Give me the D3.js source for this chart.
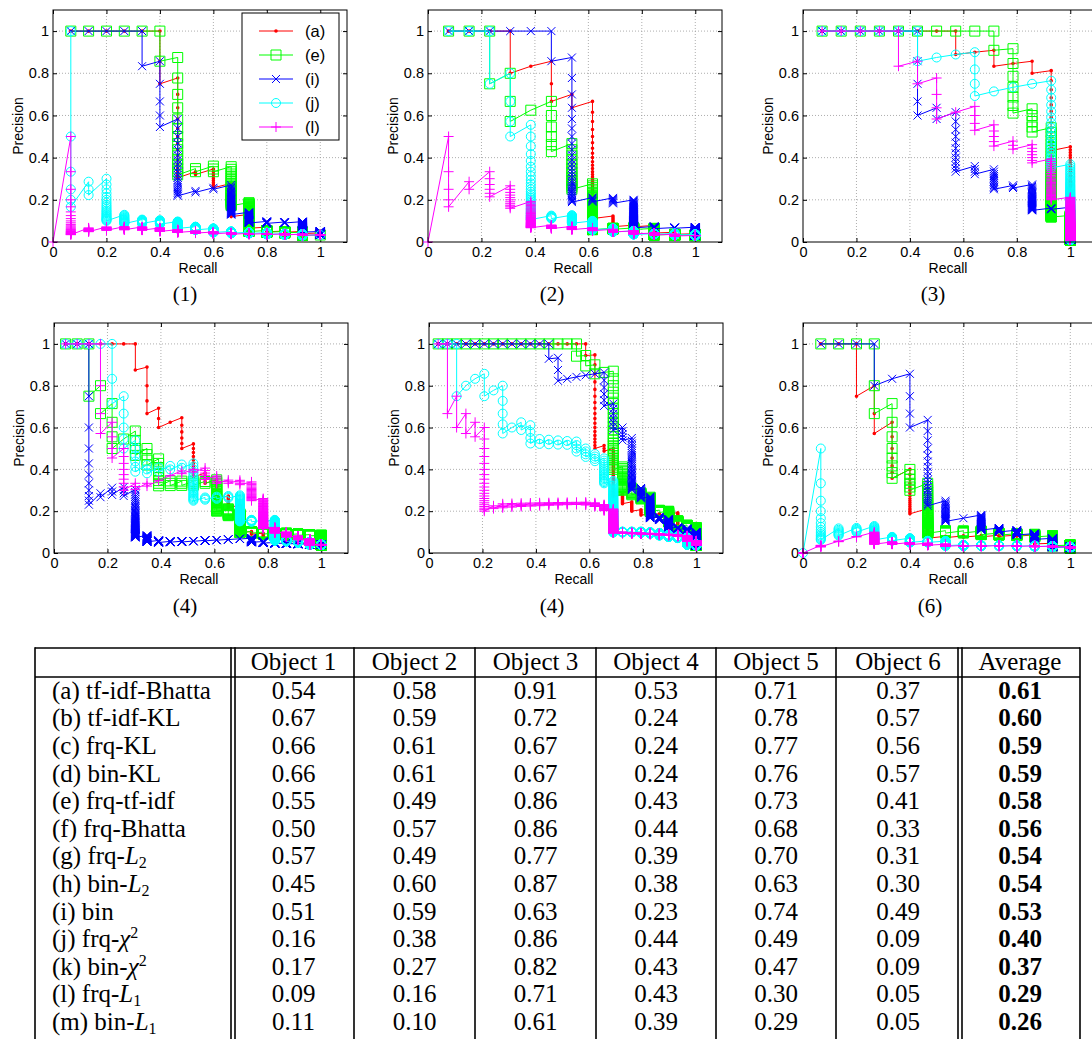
<!DOCTYPE html>
<html>
<head>
<meta charset="utf-8">
<script src="https://cdn.jsdelivr.net/npm/d3@7"></script>
<style>
  body { margin: 0; background: #fff; }
  .plot text { font-family: "Liberation Sans", Arial, sans-serif; fill: #000; }
  .tbl text { font-family: "Liberation Serif", "Times New Roman", serif; fill: #000; }
</style>
</head>
<body>
<svg id="fig" width="1092" height="1039"></svg>
<script>
// ---- data ----
const seriesKeys = ["(a)", "(e)", "(i)", "(j)", "(l)"];
const panelCaptions = ["(1)", "(2)", "(3)", "(4)", "(4)", "(6)"];
const tickVals = [0, 0.2, 0.4, 0.6, 0.8, 1];

// number of relevant items per object, and length of each ranked list
const relevantCount = [15, 13, 14, 23, 29, 15];
const listLength = [450, 430, 1400, 600, 800, 600];

// rank at which each relevant item is retrieved, per series (a, e, i, j, l)
const ranksObj1 = [
  [1, 2, 3, 4, 5, 6, 9, 24, 26, 36, 84, 170, 250, 280, 350],
  [1, 2, 3, 4, 5, 6, 8, 23, 25, 28, 59, 221, 260, 300, 450],
  [1, 2, 3, 4, 5, 7, 12, 33, 35, 37, 78, 123, 137, 145, 300],
  [1, 7, 10, 31, 47, 58, 72, 110, 140, 200, 240, 270, 330, 380, 450],
  [2, 30, 42, 55, 70, 90, 120, 155, 190, 230, 270, 300, 340, 380, 440]
];
const ranksObj2 = [
  [1, 2, 3, 4, 6, 7, 10, 12, 73, 125, 140, 260, 330],
  [1, 2, 3, 5, 8, 9, 15, 29, 138, 150, 170, 330, 380],
  [1, 2, 3, 4, 5, 6, 8, 38, 43, 50, 150, 175, 185],
  [1, 2, 3, 5, 9, 48, 55, 80, 140, 190, 280, 300, 360],
  [2, 7, 9, 15, 26, 75, 95, 120, 150, 190, 260, 330, 420]
];
const ranksObj3 = [
  [1, 2, 3, 4, 5, 6, 7, 8, 10, 11, 13, 14, 16, 31],
  [1, 2, 3, 4, 5, 6, 7, 8, 9, 10, 12, 19, 24, 111],
  [1, 2, 3, 4, 5, 6, 11, 13, 25, 29, 41, 44, 81, 85],
  [1, 2, 3, 4, 5, 6, 8, 9, 10, 14, 15, 16, 17, 38],
  [1, 2, 3, 4, 5, 7, 9, 13, 14, 18, 23, 26, 33, 66]
];
const ranksObj4 = [
  [1, 2, 3, 4, 5, 6, 7, 9, 13, 16, 17, 23, 34, 40, 55, 70, 165, 190, 250, 300, 380, 450, 530],
  [1, 2, 3, 5, 7, 11, 12, 16, 20, 29, 32, 35, 38, 40, 71, 85, 165, 180, 200, 210, 230, 250, 270],
  [1, 2, 3, 14, 16, 19, 23, 95, 150, 180, 195, 210, 215, 225, 230, 235, 240, 330, 380, 420, 460, 500, 540],
  [1, 2, 3, 4, 5, 8, 13, 19, 22, 24, 26, 28, 49, 52, 55, 58, 107, 115, 120, 320, 360, 420, 560],
  [1, 2, 3, 4, 8, 12, 21, 24, 26, 27, 28, 30, 32, 38, 43, 46, 50, 69, 155, 200, 260, 330, 560]
];
const ranksObj5 = [
  [1, 2, 3, 4, 5, 6, 7, 8, 9, 10, 11, 12, 13, 14, 15, 16, 17, 19, 37, 40, 75, 90, 111, 128, 133, 138, 140, 271, 300],
  [1, 2, 3, 4, 5, 6, 7, 8, 9, 10, 11, 12, 13, 14, 15, 16, 18, 20, 22, 23, 51, 71, 80, 90, 122, 130, 175, 210, 240],
  [1, 2, 3, 4, 5, 6, 7, 8, 9, 10, 11, 12, 13, 15, 18, 19, 20, 21, 22, 28, 35, 40, 74, 89, 145, 160, 220, 240, 290],
  [1, 2, 3, 5, 6, 7, 9, 10, 15, 16, 18, 22, 24, 26, 28, 30, 34, 38, 42, 58, 205, 215, 225, 240, 260, 300, 340, 380, 700],
  [1, 2, 4, 6, 8, 10, 31, 34, 38, 42, 46, 50, 54, 58, 62, 66, 70, 75, 82, 95, 210, 225, 240, 255, 270, 290, 310, 340, 500]
];
const ranksObj6 = [
  [1, 2, 3, 5, 8, 15, 33, 100, 110, 120, 130, 140, 150, 300, 500],
  [1, 2, 3, 4, 7, 15, 21, 75, 85, 95, 115, 130, 145, 170, 400],
  [1, 2, 3, 4, 6, 7, 11, 32, 54, 55, 92, 110, 140, 200, 500],
  [2, 17, 25, 31, 65, 85, 120, 140, 230, 270, 300, 330, 370, 420, 500],
  [27, 35, 38, 40, 95, 120, 150, 190, 250, 280, 310, 340, 380, 430, 480]
];
const panelRanks = [ranksObj1, ranksObj2, ranksObj3, ranksObj4, ranksObj5, ranksObj6];

// table
const tableHeader = ["", "Object 1", "Object 2", "Object 3", "Object 4", "Object 5", "Object 6", "Average"];
const methodLabels = ["(a) tf-idf-Bhatta", "(b) tf-idf-KL", "(c) frq-KL", "(d) bin-KL", "(e) frq-tf-idf",
  "(f) frq-Bhatta", "(g) frq-L_2", "(h) bin-L_2", "(i) bin", "(j) frq-χ^2", "(k) bin-χ^2", "(l) frq-L_1", "(m) bin-L_1"];
const obj1 = [0.54, 0.67, 0.66, 0.66, 0.55, 0.50, 0.57, 0.45, 0.51, 0.16, 0.17, 0.09, 0.11];
const obj2 = [0.58, 0.59, 0.61, 0.61, 0.49, 0.57, 0.49, 0.60, 0.59, 0.38, 0.27, 0.16, 0.10];
const obj3 = [0.91, 0.72, 0.67, 0.67, 0.86, 0.86, 0.77, 0.87, 0.63, 0.86, 0.82, 0.71, 0.61];
const obj4 = [0.53, 0.24, 0.24, 0.24, 0.43, 0.44, 0.39, 0.38, 0.23, 0.44, 0.43, 0.43, 0.39];
const obj5 = [0.71, 0.78, 0.77, 0.76, 0.73, 0.68, 0.70, 0.63, 0.74, 0.49, 0.47, 0.30, 0.29];
const obj6 = [0.37, 0.57, 0.56, 0.57, 0.41, 0.33, 0.31, 0.30, 0.49, 0.09, 0.09, 0.05, 0.05];
const average = [0.61, 0.60, 0.59, 0.59, 0.58, 0.56, 0.54, 0.54, 0.53, 0.40, 0.37, 0.29, 0.26];

// ---- styles / layout ----
const seriesColors = ["#ff0000", "#00ff00", "#0000ff", "#00ffff", "#ff00ff"];
const seriesMarkers = ["dot", "square", "x", "circle", "plus"];
const panelLeft = [53, 428, 803, 54, 429, 803];
const panelTop = [10, 10, 10, 323, 323, 323];
const panelH = [232, 232, 232, 230, 230, 230];
const plotW = 294;
const captionX = [185, 552, 933, 185, 552, 930];
const captionY = [301, 301, 301, 613, 613, 613];

const svg = d3.select("#fig");

function r1(v) { return Math.round(v * 10) / 10; }

const markerPath = {
  dot: (px, py) => `M${r1(px + 1.8)},${r1(py)}a1.8,1.8 0 1,0 -3.6,0a1.8,1.8 0 1,0 3.6,0`,
  square: (px, py) => `M${r1(px - 5)},${r1(py - 5)}h10v10h-10Z`,
  x: (px, py) => `M${r1(px - 4)},${r1(py - 4)}l8,8M${r1(px - 4)},${r1(py + 4)}l8,-8`,
  circle: (px, py) => `M${r1(px + 4.5)},${r1(py)}a4.5,4.5 0 1,0 -9,0a4.5,4.5 0 1,0 9,0`,
  plus: (px, py) => `M${r1(px - 5)},${r1(py)}h10M${r1(px)},${r1(py - 5)}v10`
};

// precision / recall after each retrieved item of a ranked list
function prCurve(ranks, n, len) {
  let pts = [], hits = 0, next = 0;
  for (let k = 1; k <= len; k++) {
    if (next < ranks.length && ranks[next] === k) { hits++; next++; }
    pts.push([hits / n, hits / k]);
  }
  return pts;
}

const fmt = d3.format("~g");

panelRanks.forEach(function (ranks, pi) {
  const left = panelLeft[pi], top = panelTop[pi], h = panelH[pi];
  const x = d3.scaleLinear().domain([0, 1.1]).range([left, left + plotW]);
  const y = d3.scaleLinear().domain([0, 1.1]).range([top + h, top]);
  const g = svg.append("g").attr("class", "plot");

  // dotted grid
  g.append("g").selectAll("line").data(tickVals.slice(1)).join("line")
    .attr("x1", d => x(d)).attr("x2", d => x(d))
    .attr("y1", top).attr("y2", top + h)
    .attr("stroke", "#999").attr("stroke-width", 0.8).attr("stroke-dasharray", "1,2");
  g.append("g").selectAll("line").data(tickVals.slice(1)).join("line")
    .attr("y1", d => y(d)).attr("y2", d => y(d))
    .attr("x1", left).attr("x2", left + plotW)
    .attr("stroke", "#999").attr("stroke-width", 0.8).attr("stroke-dasharray", "1,2");

  // axes, ticks pointing inward on all four sides
  const axB = g.append("g").attr("transform", `translate(0,${top + h})`)
    .call(d3.axisBottom(x).tickValues(tickVals).tickFormat(fmt).tickSize(-4).tickPadding(5));
  const axL = g.append("g").attr("transform", `translate(${left},0)`)
    .call(d3.axisLeft(y).tickValues(tickVals).tickFormat(fmt).tickSize(-4).tickPadding(4));
  const axT = g.append("g").attr("transform", `translate(0,${top})`)
    .call(d3.axisTop(x).tickValues(tickVals).tickFormat("").tickSize(-4));
  const axR = g.append("g").attr("transform", `translate(${left + plotW},0)`)
    .call(d3.axisRight(y).tickValues(tickVals).tickFormat("").tickSize(-4));
  [axB, axL, axT, axR].forEach(function (a) {
    a.select(".domain").remove();
    a.attr("font-family", null).attr("font-size", null);
    a.selectAll("text").style("font-size", "14.5px").style("font-family", "'Liberation Sans', Arial, sans-serif");
    a.selectAll("line").attr("stroke", "#000");
  });

  // curves
  const line = d3.line().x(d => x(d[0])).y(d => y(d[1]));
  ranks.forEach(function (rk, si) {
    const pts = prCurve(rk, relevantCount[pi], listLength[pi]);
    const col = seriesColors[si];
    g.append("path").attr("d", line(pts)).attr("fill", "none")
      .attr("stroke", col).attr("stroke-width", 1);
    const mk = seriesMarkers[si];
    const d = pts.map(p => markerPath[mk](x(p[0]), y(p[1]))).join("");
    g.append("path").attr("d", d)
      .attr("fill", mk === "dot" ? col : "none")
      .attr("stroke", col).attr("stroke-width", mk === "dot" ? 0 : 1);
  });

  // frame
  g.append("rect").attr("x", left).attr("y", top).attr("width", plotW).attr("height", h)
    .attr("fill", "none").attr("stroke", "#000").attr("stroke-width", 1);

  // labels
  g.append("text").attr("x", left + plotW / 2 - 2).attr("y", top + h + 31)
    .attr("text-anchor", "middle").style("font-size", "14px").text("Recall");
  g.append("text").attr("transform", `translate(${left - 35},${top + h / 2}) rotate(-90)`)
    .attr("text-anchor", "middle").attr("dy", "0.35em").style("font-size", "14px").text("Precision");
  svg.append("text").attr("class", "cap").attr("x", captionX[pi]).attr("y", captionY[pi])
    .attr("text-anchor", "middle")
    .style("font-family", "'Liberation Serif', 'Times New Roman', serif").style("font-size", "21px")
    .text(panelCaptions[pi]);

  // legend in the first panel
  if (pi === 0) {
    const lg = g.append("g");
    lg.append("rect").attr("x", 242).attr("y", 13).attr("width", 97).attr("height", 127)
      .attr("fill", "#fff").attr("stroke", "#000").attr("stroke-width", 1);
    seriesKeys.forEach(function (k, si) {
      const ly = 31 + si * 24;
      lg.append("line").attr("x1", 259).attr("x2", 293).attr("y1", ly).attr("y2", ly)
        .attr("stroke", seriesColors[si]).attr("stroke-width", 1);
      const mk = seriesMarkers[si];
      lg.append("path").attr("d", markerPath[mk](276, ly))
        .attr("fill", mk === "dot" ? seriesColors[si] : "none")
        .attr("stroke", seriesColors[si]).attr("stroke-width", mk === "dot" ? 0 : 1);
      lg.append("text").attr("x", 305).attr("y", ly + 6).style("font-size", "16.5px").text(k);
    });
  }
});

// ---- table ----
const tbl = svg.append("g").attr("class", "tbl");
const colEdges = [35, 233, 354, 475, 596, 716, 836, 960, 1080];
const doubleCols = [1, 7];
const tTop = 648, tHead = 677, rowH = 27.6;
const tBottom = 1045;
const columns = [obj1, obj2, obj3, obj4, obj5, obj6, average];
const num = d3.format(".2f");
const tFont = "25px";

tbl.append("line").attr("x1", colEdges[0]).attr("x2", colEdges[8]).attr("y1", tTop).attr("y2", tTop)
  .attr("stroke", "#000").attr("stroke-width", 1.6);
tbl.append("line").attr("x1", colEdges[0]).attr("x2", colEdges[8]).attr("y1", tHead).attr("y2", tHead)
  .attr("stroke", "#000").attr("stroke-width", 1.6);
colEdges.forEach(function (cx, ci) {
  const xs = doubleCols.includes(ci) ? [cx - 2, cx + 2] : [cx];
  xs.forEach(function (xx) {
    tbl.append("line").attr("x1", xx).attr("x2", xx).attr("y1", tTop - 0.8).attr("y2", tBottom)
      .attr("stroke", "#000").attr("stroke-width", 1.6);
  });
});

const colCenter = i => (colEdges[i] + colEdges[i + 1]) / 2;
tableHeader.forEach(function (hd, ci) {
  if (!hd) return;
  tbl.append("text").attr("x", colCenter(ci)).attr("y", tHead - 7)
    .attr("text-anchor", "middle").style("font-size", tFont).text(hd);
});

methodLabels.forEach(function (lab, ri) {
  const by = tHead + rowH * (ri + 0.5) + 8;
  const t = tbl.append("text").attr("x", 52).attr("y", by).style("font-size", tFont);
  const m = lab.match(/^(.*-)(L|χ)([_^])(\d)$/);
  if (m) {
    t.append("tspan").text(m[1]);
    t.append("tspan").style("font-style", "italic").text(m[2]);
    t.append("tspan").attr("dy", m[3] === "_" ? 3.5 : -9).style("font-size", "16px").text(m[4]);
  } else {
    t.text(lab);
  }
  columns.forEach(function (col, ci) {
    tbl.append("text").attr("x", colCenter(ci + 1)).attr("y", by)
      .attr("text-anchor", "middle").style("font-size", tFont)
      .style("font-weight", ci === 6 ? "bold" : "normal")
      .text(num(col[ri]));
  });
});
</script>
</body>
</html>
